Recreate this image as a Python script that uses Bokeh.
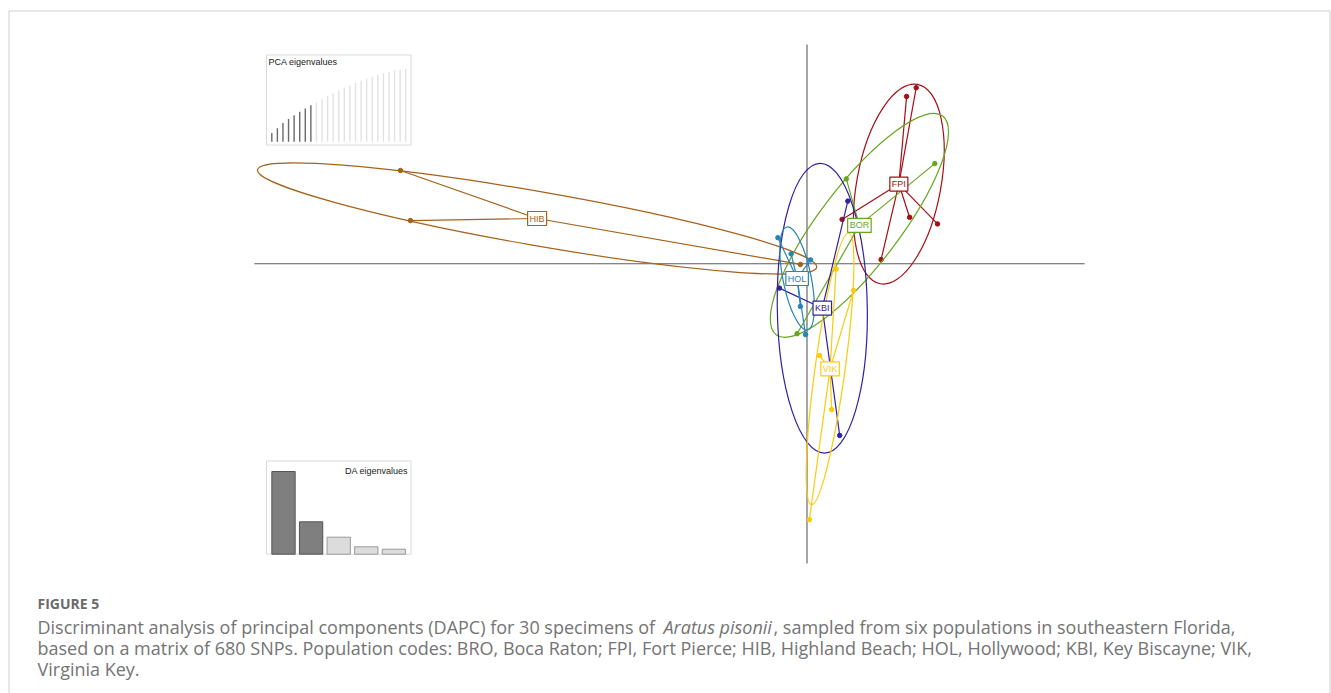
from bokeh.plotting import figure
from bokeh.models import Range1d, Label
from bokeh.core.properties import value
from bokeh.embed import file_html
from bokeh.resources import INLINE
import numpy as np

# ---- DAPC scores (LD1, LD2) per specimen, by population ----
hib_ld1 = [-13.55, -13.22, -0.22]
hib_ld2 = [3.11, 1.44, -0.02]
fpi_ld1 = [3.32, 3.64, 3.42, 4.35, 2.47, 1.17]
fpi_ld2 = [5.58, 5.87, 1.55, 1.33, 0.14, 1.48]
bor_ld1 = [1.31, 4.26, -0.33]
bor_ld2 = [2.83, 3.34, -2.33]
kbi_ld1 = [1.36, -0.92, 1.09]
kbi_ld2 = [2.09, -0.81, -5.72]
hol_ld1 = [-0.97, -0.53, 0.12, -0.22, -0.05]
hol_ld2 = [0.87, 0.33, 0.13, -1.42, -2.36]
vik_ld1 = [0.97, 1.55, 0.42, 0.82, 0.08]
vik_ld2 = [-0.17, -0.89, -3.06, -4.86, -8.53]

pop_codes = ["HIB", "FPI", "BOR", "KBI", "HOL", "VIK"]
pop_colors = ["#A6611A", "#A50F15", "#66A61E", "#30229E", "#2585B5", "#FBCB0A"]
pop_ld1 = [hib_ld1, fpi_ld1, bor_ld1, kbi_ld1, hol_ld1, vik_ld1]
pop_ld2 = [hib_ld2, fpi_ld2, bor_ld2, kbi_ld2, hol_ld2, vik_ld2]

# inertia ellipses: semi-axes (LD units) and orientation (degrees)
ell_major = [9.46, 3.38, 4.58, 4.83, 1.75, 4.57]
ell_minor = [0.90, 1.40, 1.33, 1.50, 0.47, 0.50]
ell_angle = [-9.9, 79.4, 52.7, 90.9, 101.3, 82.2]

# extent of the drawn LD axes
ld1_lim = [-18.42, 9.25]
ld2_lim = [-9.99, 7.31]

# ---- inset screeplots ----
pca_cumvar = [11.9, 18.7, 25.6, 31.1, 36.5, 41.1, 45.7, 50.2, 53.9, 58.4, 62.6,
              66.2, 70.3, 74.0, 77.6, 80.4, 83.6, 86.3, 89.0, 91.8, 94.1, 95.9,
              97.7, 99.1, 100.0]
n_pca_retained = 8
da_eig = [165.4, 64.8, 34.0, 14.8, 10.0]
n_da_retained = 2

W, H = 1331, 693


def screen_range(v0, p0, v1, p1, span, vertical=False):
    """Range whose value v0 sits at canvas pixel p0 and v1 at p1."""
    k = (v1 - v0) / (p1 - p0)
    lo = v0 - p0 * k
    hi = v0 + (span - p0) * k
    if vertical:
        return Range1d(start=hi, end=lo)
    return Range1d(start=lo, end=hi)


p = figure(width=W, height=H, output_backend="svg", toolbar_location=None,
           x_range=screen_range(0, 806.5, 1, 836.5, W),
           y_range=screen_range(0, 263.3, 1, 233.3, H, vertical=True),
           min_border=0, background_fill_color="white",
           border_fill_color="white")
p.axis.visible = False
p.grid.visible = False
p.outline_line_color = None

p.extra_x_ranges = {
    "px": Range1d(0, W),
    "pca": screen_range(1, 271.3, 2, 276.88, W),
    "da": screen_range(1, 283.0, 2, 310.6, W),
}
p.extra_y_ranges = {
    "px": Range1d(H, 0),
    "pca": screen_range(0, 141.3, 100, 68.3, H, vertical=True),
    "da": screen_range(0, 553.7, max(da_eig), 471.0, H, vertical=True),
}

# page frame
p.line(x=[8.5, 8.5, 1329.5, 1329.5], y=[700, 10.5, 10.5, 700],
       x_range_name="px", y_range_name="px", line_color="#cfcfcf", line_width=1)

# LD axes through the origin
p.segment(x0=[ld1_lim[0], 0], y0=[0, ld2_lim[0]], x1=[ld1_lim[1], 0], y1=[0, ld2_lim[1]],
          line_color="#5c5c5c", line_width=1.1)

# populations: ellipses, stars to centroids, points, labels
for code, col, xs, ys, a, b, ang in zip(pop_codes, pop_colors, pop_ld1, pop_ld2,
                                         ell_major, ell_minor, ell_angle):
    xs = np.array(xs)
    ys = np.array(ys)
    cx, cy = float(xs.mean()), float(ys.mean())
    p.ellipse(x=[cx], y=[cy], width=[2 * a], height=[2 * b], angle=[np.radians(ang)],
              fill_color=None, line_color=col, line_width=1.2)
    p.segment(x0=xs, y0=ys, x1=[cx] * len(xs), y1=[cy] * len(xs),
              line_color=col, line_width=1.2)
    p.scatter(x=xs, y=ys, size=4.5, fill_color=col, line_color=col)
    p.add_layout(Label(x=cx, y=cy, text=code, text_align="center", text_baseline="middle",
                       text_font="Liberation Sans", text_font_size="9px",
                       text_color=col, background_fill_color="white",
                       border_line_color=col, border_line_width=1.2, padding=2))

# PCA eigenvalues inset (cumulated variance)
p.quad(left=[266], right=[410.5], top=[54.5], bottom=[144.5], x_range_name="px",
       y_range_name="px", fill_color="white", line_color="#dadada", line_width=1)
pca_idx = np.arange(1, len(pca_cumvar) + 1)
pca_cols = ["#6a6a6a" if i <= n_pca_retained else "#e2e2e2" for i in pca_idx]
p.segment(x0=pca_idx, y0=[0] * len(pca_idx), x1=pca_idx, y1=pca_cumvar,
          x_range_name="pca", y_range_name="pca", line_color=pca_cols, line_width=1.4)
p.text(x=[268], y=[61.5], text=["PCA eigenvalues"], x_range_name="px", y_range_name="px",
       text_font=value("Liberation Sans"), text_font_size="9px", text_color="#1a1a1a",
       text_baseline="middle", text_align="left")

# DA eigenvalues inset
p.quad(left=[266], right=[410.5], top=[460.5], bottom=[553.7], x_range_name="px",
       y_range_name="px", fill_color="white", line_color="#dadada", line_width=1)
da_idx = np.arange(1, len(da_eig) + 1)
da_fill = ["#7f7f7f" if i <= n_da_retained else "#dcdcdc" for i in da_idx]
da_line = ["#555555" if i <= n_da_retained else "#9a9a9a" for i in da_idx]
p.vbar(x=da_idx, top=da_eig, bottom=0, width=0.845, x_range_name="da", y_range_name="da",
       fill_color=da_fill, line_color=da_line, line_width=1)
p.text(x=[407.5], y=[470.5], text=["DA eigenvalues"], x_range_name="px", y_range_name="px",
       text_font=value("Liberation Sans"), text_font_size="9px", text_color="#1a1a1a",
       text_baseline="middle", text_align="right")

# caption
cap_font = value("Open Sans")
cap_col = "#747474"
cap_size = "18px"
p.text(x=[37], y=[603], text=["FIGURE 5"], x_range_name="px", y_range_name="px",
       text_font=cap_font, text_font_style="bold", text_font_size="14px",
       text_color="#6a6a6a", text_baseline="middle")
p.text(x=[37], y=[626], text=["Discriminant analysis of principal components (DAPC) for 30 specimens of"],
       x_range_name="px", y_range_name="px", text_font=cap_font, text_font_size=cap_size,
       text_color=cap_col, text_baseline="middle")
p.text(x=[663], y=[626], text=["Aratus pisonii"], x_range_name="px", y_range_name="px",
       text_font=cap_font, text_font_style="italic", text_font_size=cap_size,
       text_color=cap_col, text_baseline="middle", text_align="left")
p.text(x=[773], y=[626], text=[", sampled from six populations in southeastern Florida,"],
       x_range_name="px", y_range_name="px", text_font=cap_font, text_font_size=cap_size,
       text_color=cap_col, text_baseline="middle")
p.text(x=[37], y=[647.5],
       text=["based on a matrix of 680 SNPs. Population codes: BRO, Boca Raton; FPI, Fort Pierce; "
             "HIB, Highland Beach; HOL, Hollywood; KBI, Key Biscayne; VIK,"],
       x_range_name="px", y_range_name="px", text_font=cap_font, text_font_size=cap_size,
       text_color=cap_col, text_baseline="middle")
p.text(x=[37], y=[668.5], text=["Virginia Key."], x_range_name="px", y_range_name="px",
       text_font=cap_font, text_font_size=cap_size, text_color=cap_col, text_baseline="middle")

open("out.html", "w").write(file_html(p, INLINE))
